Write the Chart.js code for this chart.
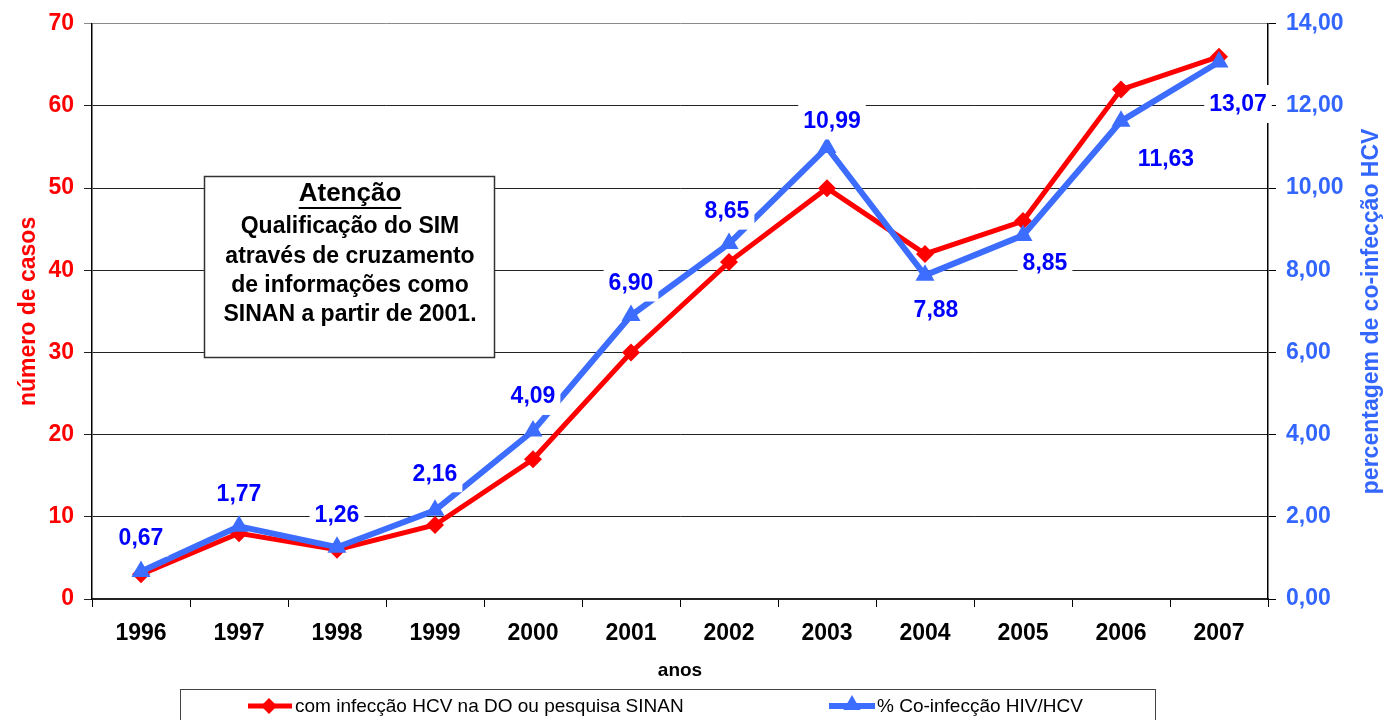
<!DOCTYPE html>
<html>
<head>
<meta charset="utf-8">
<style>
  html, body { margin: 0; padding: 0; background: #fff; overflow: hidden; }
  #wrap { position: relative; width: 1384px; height: 720px; }
</style>
<script src="https://cdn.jsdelivr.net/npm/chart.js@4.4.0/dist/chart.umd.min.js"></script>
</head>
<body>
<div id="wrap"><canvas id="chart"></canvas></div>
<script>
// data
const years = ['1996', '1997', '1998', '1999', '2000', '2001', '2002', '2003', '2004', '2005', '2006', '2007'];
const casos = [3, 8, 6, 9, 17, 30, 41, 50, 42, 46, 62, 66];
const coinfeccao = [0.67, 1.77, 1.26, 2.16, 4.09, 6.90, 8.65, 10.99, 7.88, 8.85, 11.63, 13.07];
const casosTicks = [0, 10, 20, 30, 40, 50, 60, 70];
const pctTicks = [0, 2, 4, 6, 8, 10, 12, 14];

const serieCasos = 'com infecção HCV na DO ou pesquisa SINAN';
const seriePct = '% Co-infecção HIV/HCV';
const noteLines = ['Qualificação do SIM', 'através de cruzamento', 'de informações como', 'SINAN a partir de 2001.'];

// where each percentage label sits relative to its point (dx, dy)
const labelOffsets = [[0, -34], [0, -33], [0, -33], [0, -37], [0, -35], [0, -33],
  [-2, -33], [5, -27], [11, 34], [22, 27], [45, 37], [19, 42]];

const FONT = '"Liberation Sans", Arial, sans-serif';
const RED = '#FF0000';
const BLUE_LINE = '#3D6DFF';
const BLUE_AXIS = '#3366FF';
const BLUE_TEXT = '#0000FF';

const fmtPct = v => v.toFixed(2).replace('.', ',');

function diamond(ctx, x, y, r) {
  ctx.beginPath();
  ctx.moveTo(x, y - r); ctx.lineTo(x + r, y); ctx.lineTo(x, y + r); ctx.lineTo(x - r, y);
  ctx.closePath(); ctx.fill();
}
function triangle(ctx, x, y, r) {
  ctx.beginPath();
  ctx.moveTo(x, y - r);
  ctx.lineTo(x + r * 0.866, y + r / 2);
  ctx.lineTo(x - r * 0.866, y + r / 2);
  ctx.closePath(); ctx.fill();
}

const pctLabels = {
  id: 'pctLabels',
  afterDatasetsDraw(chart) {
    const ctx = chart.ctx;
    const meta = chart.getDatasetMeta(1);
    ctx.save();
    ctx.font = 'bold 23px ' + FONT;
    ctx.textAlign = 'center';
    ctx.textBaseline = 'middle';
    meta.data.forEach((pt, i) => {
      const txt = fmtPct(coinfeccao[i]);
      const x = pt.x + labelOffsets[i][0];
      const y = pt.y + labelOffsets[i][1];
      const w = ctx.measureText(txt).width + 10;
      ctx.fillStyle = '#fff';
      ctx.fillRect(x - w / 2, y - 19, w, 38);
      ctx.fillStyle = BLUE_TEXT;
      ctx.fillText(txt, x, y + 1);
    });
    ctx.restore();
  }
};

const extras = {
  id: 'extras',
  afterDraw(chart) {
    const ctx = chart.ctx;
    const area = chart.chartArea;
    ctx.save();

    // right axis title, reading upwards
    ctx.translate(1372, (area.top + area.bottom) / 2);
    ctx.rotate(-Math.PI / 2);
    ctx.font = 'bold 23px ' + FONT;
    ctx.fillStyle = BLUE_AXIS;
    ctx.textAlign = 'center';
    ctx.textBaseline = 'middle';
    ctx.fillText('percentagem de co-infecção HCV', 0, 0);
    ctx.setTransform(1, 0, 0, 1, 0, 0);

    // note box
    ctx.fillStyle = '#fff';
    ctx.fillRect(204, 176, 291, 182);
    ctx.strokeStyle = '#333';
    ctx.lineWidth = 1.5;
    ctx.strokeRect(204.5, 176.5, 290, 181);
    ctx.fillStyle = '#000';
    ctx.textAlign = 'center';
    ctx.textBaseline = 'middle';
    ctx.font = 'bold 26px ' + FONT;
    ctx.fillText('Atenção', 350, 194);
    const tw = ctx.measureText('Atenção').width;
    ctx.fillRect(350 - tw / 2, 207, tw, 2);
    ctx.font = 'bold 23px ' + FONT;
    noteLines.forEach((t, i) => ctx.fillText(t, 350, 227 + i * 29.2));

    // legend
    ctx.fillStyle = '#fff';
    ctx.fillRect(180, 689, 976, 40);
    ctx.strokeStyle = '#444';
    ctx.lineWidth = 1;
    ctx.strokeRect(180.5, 689.5, 975, 40);
    const ly = 706;
    ctx.lineWidth = 5;
    ctx.strokeStyle = RED;
    ctx.beginPath(); ctx.moveTo(248, ly); ctx.lineTo(292, ly); ctx.stroke();
    ctx.fillStyle = RED;
    diamond(ctx, 269, ly, 8);
    ctx.lineWidth = 6;
    ctx.strokeStyle = BLUE_LINE;
    ctx.beginPath(); ctx.moveTo(829, ly); ctx.lineTo(875, ly); ctx.stroke();
    ctx.fillStyle = BLUE_LINE;
    triangle(ctx, 852, ly - 1, 10);
    ctx.fillStyle = '#000';
    ctx.font = '19px ' + FONT;
    ctx.textAlign = 'left';
    ctx.fillText(serieCasos, 295, ly + 1);
    ctx.fillText(seriePct, 877, ly + 1);

    ctx.restore();
  }
};

new Chart(document.getElementById('chart'), {
  type: 'line',
  data: {
    labels: years,
    datasets: [
      {
        label: serieCasos,
        data: casos,
        yAxisID: 'y',
        borderColor: RED,
        backgroundColor: RED,
        borderWidth: 5,
        pointStyle: 'rectRot',
        pointRadius: 9,
        pointBorderWidth: 0,
        tension: 0,
        order: 1,
      },
      {
        label: seriePct,
        data: coinfeccao,
        yAxisID: 'y1',
        borderColor: BLUE_LINE,
        backgroundColor: BLUE_LINE,
        borderWidth: 6,
        pointStyle: 'triangle',
        pointRadius: 11,
        pointBorderWidth: 0,
        tension: 0,
        order: 0,
      },
    ],
  },
  options: {
    responsive: true,
    maintainAspectRatio: false,
    animation: false,
    layout: { padding: { top: 20, left: 0, right: 0, bottom: 0 } },
    plugins: {
      legend: { display: false },
      tooltip: { enabled: false },
    },
    scales: {
      x: {
        offset: true,
        grid: { offset: true, drawOnChartArea: false, color: '#000', tickLength: 8 },
        border: { color: '#222', width: 2 },
        ticks: { color: '#000', font: { family: FONT, size: 23, weight: 'bold' }, padding: 13, maxRotation: 0 },
        title: { display: true, text: 'anos', color: '#000', font: { family: FONT, size: 19, weight: 'bold' }, padding: { bottom: 38 } },
        afterFit: s => { s.height = 121; },
      },
      y: {
        position: 'left',
        min: 0,
        max: 70,
        afterBuildTicks: s => { s.ticks = casosTicks.map(v => ({ value: v })); },
        grid: { color: ctx => (ctx.tick && ctx.tick.value === 70 ? '#8a8a8a' : '#222'), tickLength: 8, lineWidth: 1 },
        border: { color: '#000', width: 1.5 },
        ticks: { color: RED, font: { family: FONT, size: 23, weight: 'bold' }, padding: 10 },
        title: { display: true, text: 'número de casos', color: RED, font: { family: FONT, size: 23, weight: 'bold' }, padding: { top: 15 } },
        afterFit: s => { s.width = 92; },
      },
      y1: {
        position: 'right',
        min: 0,
        max: 14,
        afterBuildTicks: s => { s.ticks = pctTicks.map(v => ({ value: v })); },
        grid: { drawOnChartArea: false, color: '#000', tickLength: 8 },
        border: { color: '#000', width: 1.5 },
        ticks: { color: BLUE_AXIS, font: { family: FONT, size: 23, weight: 'bold' }, padding: 10, callback: v => fmtPct(v) },
        afterFit: s => { s.width = 116; },
      },
    },
  },
  plugins: [pctLabels, extras],
});
</script>
</body>
</html>
